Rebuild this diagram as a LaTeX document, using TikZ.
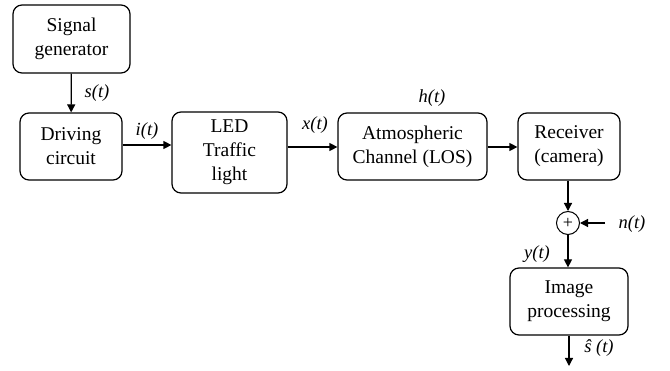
\documentclass[tikz,border=0pt]{standalone}
\usepackage{fontspec}
\setmainfont{Liberation Serif}
\newfontfamily\tnr{Liberation Serif}
\usetikzlibrary{arrows.meta}
\begin{document}
\begin{tikzpicture}[x=1pt,y=-1pt,
  blk/.style={draw,line width=1.2pt,rounded corners=9pt,align=center,font=\tnr\fontsize{19.5}{24}\selectfont,inner sep=0pt},
  lbl/.style={font=\tnr\fontsize{18.5}{20}\selectfont\itshape,inner sep=0pt},
  arr/.style={line width=1.2pt,-{Triangle[length=8pt,width=8pt]}}]
\useasboundingbox (0,0) rectangle (670,371);
\node[blk,minimum width=117pt,minimum height=68pt] (sg) at (71.5,39) {Signal\\generator};
\node[blk,minimum width=102pt,minimum height=67pt] (dc) at (71,146.5) {Driving\\circuit};
\node[blk,minimum width=115pt,minimum height=81pt] (led) at (229.5,152.5) {LED\\Traffic\\light};
\node[blk,minimum width=149pt,minimum height=67pt] (ac) at (412.5,146.5) {Atmospheric\\Channel (LOS)};
\node[blk,minimum width=102pt,minimum height=67pt] (rx) at (569,146.5) {Receiver\\(camera)};
\node[draw,circle,line width=1pt,minimum size=23pt,inner sep=0pt,font=\tnr\fontsize{18}{18}\selectfont] (sum) at (568,223) {+};
\node[blk,minimum width=118pt,minimum height=67pt] (ip) at (569,301.5) {Image\\processing};
\coordinate (nin) at (605,223);
\coordinate (out) at (569,366);
\draw[arr] (sg) -- (dc);
\draw[arr] (dc.east |- 0,145) -- (led.west |- 0,145);
\draw[arr] (led.east |- 0,147) -- (ac.west |- 0,147);
\draw[arr] (ac.east |- 0,147) -- (rx.west |- 0,147);
\draw[arr] (rx.south -| sum) -- (sum);
\draw[arr] (nin) -- (sum);
\draw[arr] (sum) -- (ip.north -| sum);
\draw[arr] (ip) -- (out);
\node[lbl] (ls) at (97,93) {s(t)};
\node[lbl] (li) at (147,131) {i(t)};
\node[lbl] (lx) at (315,125) {x(t)};
\node[lbl] (lh) at (432,98) {h(t)};
\node[lbl] (ln) at (632,224) {n(t)};
\node[lbl] (ly) at (537,254) {y(t)};
\node[lbl] (lsh) at (599,348) {ŝ (t)};
\end{tikzpicture}
\end{document}
